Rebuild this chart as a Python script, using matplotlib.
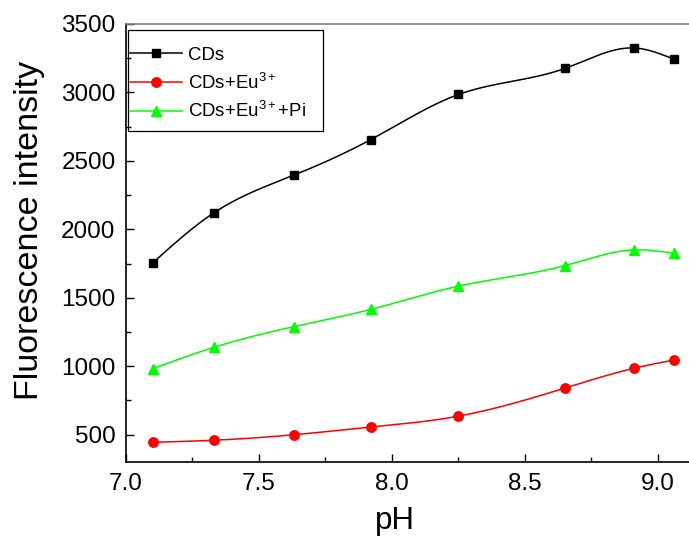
import numpy as np
import matplotlib.pyplot as plt
from matplotlib.ticker import MultipleLocator
from matplotlib.patches import Rectangle

plt.rcParams['font.family'] = ['Liberation Sans', 'DejaVu Sans']
plt.rcParams['mathtext.fontset'] = 'custom'
plt.rcParams['mathtext.rm'] = 'Liberation Sans'
plt.rcParams['mathtext.it'] = 'Liberation Sans:italic'

ph = [7.10, 7.33, 7.63, 7.92, 8.25, 8.65, 8.91, 9.06]
cds = [1754, 2120, 2395, 2655, 2985, 3175, 3325, 3243]
cds_eu = [444, 459, 499, 555, 635, 840, 985, 1045]
cds_eu_pi = [982, 1138, 1289, 1415, 1585, 1735, 1850, 1825]


def natural_spline(x, y, n=300):
    # natural cubic spline through the points
    x = np.asarray(x, float)
    y = np.asarray(y, float)
    k = len(x)
    h = np.diff(x)
    A = np.zeros((k, k))
    b = np.zeros(k)
    A[0, 0] = 1
    A[-1, -1] = 1
    for i in range(1, k - 1):
        A[i, i - 1] = h[i - 1]
        A[i, i] = 2 * (h[i - 1] + h[i])
        A[i, i + 1] = h[i]
        b[i] = 6 * ((y[i + 1] - y[i]) / h[i] - (y[i] - y[i - 1]) / h[i - 1])
    m = np.linalg.solve(A, b)
    xs = np.linspace(x[0], x[-1], n)
    idx = np.clip(np.searchsorted(x, xs) - 1, 0, k - 2)
    t0 = x[idx]
    t1 = x[idx + 1]
    hh = t1 - t0
    a = (t1 - xs) / hh
    c = (xs - t0) / hh
    ys = (a * y[idx] + c * y[idx + 1]
          + ((a ** 3 - a) * m[idx] + (c ** 3 - c) * m[idx + 1]) * hh ** 2 / 6)
    return xs, ys


fig = plt.figure(figsize=(6.89, 5.4), dpi=100)
ax = fig.add_axes([126 / 689, 78 / 540, 1 - 126 / 689, 438 / 540])

series = [
    (cds, 'k', 's', 6, 'CDs'),
    (cds_eu, '#ff0000', 'o', 6.8, 'CDs+Eu$^{3+}$'),
    (cds_eu_pi, '#00ff00', '^', 7.5, 'CDs+Eu$^{3+}$+Pi'),
]
for vals, col, mk, ms, lab in series:
    xs, ys = natural_spline(ph, vals)
    ax.plot(xs, ys, color=col, lw=1.1)
    ax.plot(ph, vals, linestyle='none', marker=mk, ms=ms, color=col)
    ax.plot([], [], color=col, lw=1.1, marker=mk, ms=ms, label=lab)

ax.set_xlim(7.0, 9.117)
ax.set_ylim(300, 3500)
ax.xaxis.set_major_locator(MultipleLocator(0.5))
ax.xaxis.set_minor_locator(MultipleLocator(0.25))
ax.yaxis.set_major_locator(MultipleLocator(500))
ax.yaxis.set_minor_locator(MultipleLocator(250))
ax.xaxis.set_major_formatter(plt.FormatStrFormatter('%.1f'))
ax.tick_params(which='both', direction='in', labelsize=17.5, width=1.0,
               top=False, right=False)
ax.tick_params(which='major', length=6)
ax.tick_params(which='minor', length=3.5)
ax.tick_params(axis='x', pad=8)
ax.tick_params(axis='y', pad=7.5)

ax.spines['right'].set_visible(False)
ax.spines['top'].set_color('#808080')
ax.spines['top'].set_linewidth(1.2)
ax.spines['left'].set_linewidth(1.2)
ax.spines['bottom'].set_linewidth(1.2)

ax.set_xlabel('pH', fontsize=22.5)
ax.set_ylabel('Fluorescence intensity', fontsize=24.5)
ax.xaxis.set_label_coords(0.478, -0.1)
ax.yaxis.set_label_coords(-0.144, 0.5285)

# legend entries without frame, frame box drawn separately
leg = ax.legend(loc='upper left', bbox_to_anchor=(0.0071, 0.948),
                borderaxespad=0, borderpad=0, fontsize=13.4, frameon=False,
                handlelength=2.8, handletextpad=0.3, labelspacing=0.47,
                numpoints=1)
ax.add_patch(Rectangle((0.0036, 0.7557), 0.3464, 0.2306,
                       transform=ax.transAxes, fill=False, lw=0.9,
                       edgecolor='k', zorder=5))

fig.savefig('out.png', dpi=100)
